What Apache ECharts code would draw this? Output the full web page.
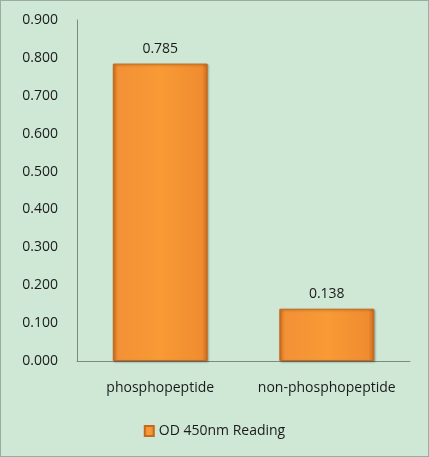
<!DOCTYPE html>
<html>
<head>
<meta charset="utf-8">
<script src="https://cdn.jsdelivr.net/npm/echarts@6/dist/echarts.min.js"></script>
<style>
html,body{margin:0;padding:0;background:#cfe8d5;}
#c{width:427px;height:455px;border:1px solid #9aaca0;}
</style>
</head>
<body>
<div id="c"></div>
<script>
const categories = ["phosphopeptide", "non-phosphopeptide"];
const seriesName = "OD 450nm Reading";
const values = [0.785, 0.138];
const yTicks = [0, 0.1, 0.2, 0.3, 0.4, 0.5, 0.6, 0.7, 0.8, 0.9];

const chart = echarts.init(document.getElementById('c'));
const barColor = new echarts.graphic.LinearGradient(0, 0, 1, 0, [
  {offset: 0, color: '#d9741f'},
  {offset: 0.06, color: '#f29136'},
  {offset: 0.5, color: '#f89a35'},
  {offset: 0.94, color: '#f08c30'},
  {offset: 1, color: '#c8691c'}
]);
chart.setOption({
  backgroundColor: '#cfe8d5',
  textStyle: {fontFamily: 'Open Sans, Noto Sans, sans-serif'},
  grid: {left: 76, right: 18, top: 19, bottom: 95, containLabel: false},
  legend: {
    bottom: 13,
    left: 'center',
    data: [seriesName],
    icon: 'rect',
    itemWidth: 9,
    itemHeight: 10,
    itemGap: 4,
    textStyle: {color: '#1a1a1a', fontSize: 14}
  },
  xAxis: {
    type: 'category',
    data: categories,
    axisLine: {lineStyle: {color: '#7d8a80', width: 1}},
    axisTick: {show: false},
    axisLabel: {color: '#1a1a1a', fontSize: 14, margin: 20, interval: 0, hideOverlap: false}
  },
  yAxis: {
    type: 'value',
    min: 0,
    max: 0.9,
    interval: 0.1,
    axisLine: {show: true, lineStyle: {color: '#7d8a80', width: 1}},
    axisTick: {show: false},
    splitLine: {show: false},
    axisLabel: {color: '#1a1a1a', fontSize: 14, margin: 19, formatter: v => v.toFixed(3)}
  },
  series: [{
    name: seriesName,
    type: 'bar',
    data: values,
    barWidth: '57%',
    itemStyle: {color: barColor, borderColor: '#c46a1e', borderWidth: 1, shadowColor: 'rgba(0,0,0,0.25)', shadowBlur: 2, shadowOffsetX: 1, shadowOffsetY: 1},
    label: {show: true, position: 'top', distance: 8, color: '#1a1a1a', fontSize: 14, formatter: p => p.value.toFixed(3)}
  }]
});
</script>
</body>
</html>
